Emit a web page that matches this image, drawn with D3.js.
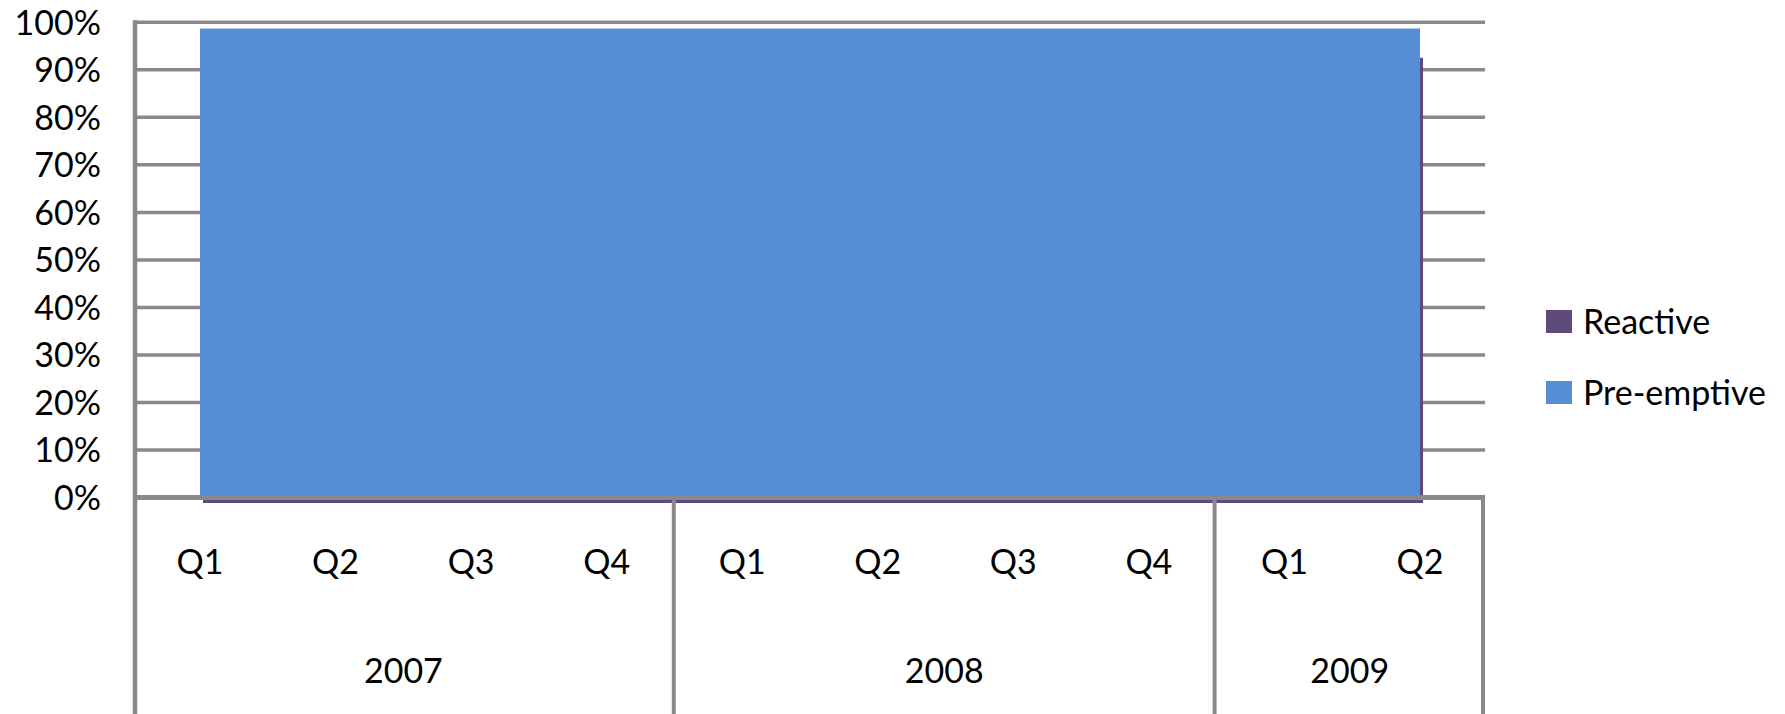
<!DOCTYPE html>
<html>
<head>
<meta charset="utf-8">
<script src="https://cdn.jsdelivr.net/npm/d3@7"></script>
<style>
  html, body { margin: 0; padding: 0; background: #fff; }
  svg { display: block; font-family: Lato, "Open Sans", sans-serif; }
</style>
</head>
<body>
<svg id="chart" width="1785" height="714"></svg>
<script>
// Quarterly share of pre-emptive vs reactive work, 2007 – 2009
const quarters = ["Q1", "Q2", "Q3", "Q4", "Q1", "Q2", "Q3", "Q4", "Q1", "Q2"];
const years = ["2007", "2007", "2007", "2007", "2008", "2008", "2008", "2008", "2009", "2009"];
const yearGroups = ["2007", "2008", "2009"];
const preemptive = [98.7, 98.7, 98.7, 98.7, 98.7, 98.7, 98.7, 98.7, 98.7, 98.7];
const reactive = [93.7, 93.7, 93.7, 93.7, 93.7, 93.7, 93.7, 93.7, 93.7, 93.7];
const yTicks = [0, 10, 20, 30, 40, 50, 60, 70, 80, 90, 100];
const seriesNames = ["Reactive", "Pre-emptive"];

const colors = { "Reactive": "#604A7B", "Pre-emptive": "#558ED5" };
const gridColor = "#898989";

const svg = d3.select("#chart");
const plot = { left: 133, right: 1485, top: 22.3, bottom: 497.5, axisBottom: 714 };

const idx = d3.range(quarters.length);
// band scale for the category axis divisions, point scale for the data positions
const x = d3.scaleBand().domain(idx).range([plot.left, plot.right]);
const xp = d3.scalePoint().domain(idx).range([200, 1420]);
const y = d3.scaleLinear().domain([0, 100]).range([plot.bottom, plot.top]);

// horizontal gridlines
svg.append("g")
  .selectAll("line")
  .data(yTicks.filter(t => t > 0))
  .join("line")
  .attr("x1", plot.left).attr("x2", plot.right)
  .attr("y1", d => y(d)).attr("y2", d => y(d))
  .attr("stroke", gridColor).attr("stroke-width", 3.5);

// areas: reactive sits behind, drawn with a small depth offset
const area = vals => d3.area()
  .x(i => xp(i))
  .y0(() => y(0))
  .y1(i => y(vals[i]))(idx);

svg.append("path")
  .attr("d", area(reactive))
  .attr("transform", "translate(3,5.5)")
  .attr("fill", colors["Reactive"]);

svg.append("path")
  .attr("d", area(preemptive))
  .attr("fill", colors["Pre-emptive"]);

// value axis line
svg.append("line")
  .attr("x1", plot.left + 2).attr("x2", plot.left + 2)
  .attr("y1", plot.top - 2).attr("y2", plot.axisBottom)
  .attr("stroke", gridColor).attr("stroke-width", 4.5);

// category axis baseline
svg.append("line")
  .attr("x1", plot.left).attr("x2", plot.right)
  .attr("y1", plot.bottom).attr("y2", plot.bottom)
  .attr("stroke", gridColor).attr("stroke-width", 5);

// year separators in the category axis
const groupBounds = yearGroups.map(g => {
  const members = idx.filter(i => years[i] === g);
  return { year: g, x0: x(members[0]), x1: x(members[members.length - 1]) + x.bandwidth() };
});
svg.append("g")
  .selectAll("line")
  .data(groupBounds.slice(1).map(b => b.x0).concat([plot.right - 2]))
  .join("line")
  .attr("x1", d => d).attr("x2", d => d)
  .attr("y1", plot.bottom).attr("y2", plot.axisBottom)
  .attr("stroke", gridColor).attr("stroke-width", 4);

// y tick labels
svg.append("g")
  .selectAll("text")
  .data(yTicks)
  .join("text")
  .attr("x", 101)
  .attr("y", d => y(d))
  .attr("dy", "0.36em")
  .attr("text-anchor", "end")
  .attr("font-size", 34)
  .attr("fill", "#000")
  .text(d => d + "%");

// quarter labels
svg.append("g")
  .selectAll("text")
  .data(idx)
  .join("text")
  .attr("x", i => xp(i))
  .attr("y", 562)
  .attr("dy", "0.36em")
  .attr("text-anchor", "middle")
  .attr("font-size", 34)
  .text(i => quarters[i]);

// year labels
svg.append("g")
  .selectAll("text")
  .data(groupBounds)
  .join("text")
  .attr("x", b => (b.x0 + b.x1) / 2)
  .attr("y", 671)
  .attr("dy", "0.36em")
  .attr("text-anchor", "middle")
  .attr("font-size", 34)
  .text(b => b.year);

// legend
const legend = svg.append("g").attr("transform", "translate(1546,310)");
const items = legend.selectAll("g")
  .data(seriesNames)
  .join("g")
  .attr("transform", (d, i) => `translate(0,${i * 71})`);
items.append("rect")
  .attr("width", 26).attr("height", 23)
  .attr("fill", d => colors[d]);
items.append("text")
  .attr("x", 37).attr("y", 12)
  .attr("dy", "0.36em")
  .attr("font-size", 34)
  .text(d => d);
</script>
</body>
</html>
